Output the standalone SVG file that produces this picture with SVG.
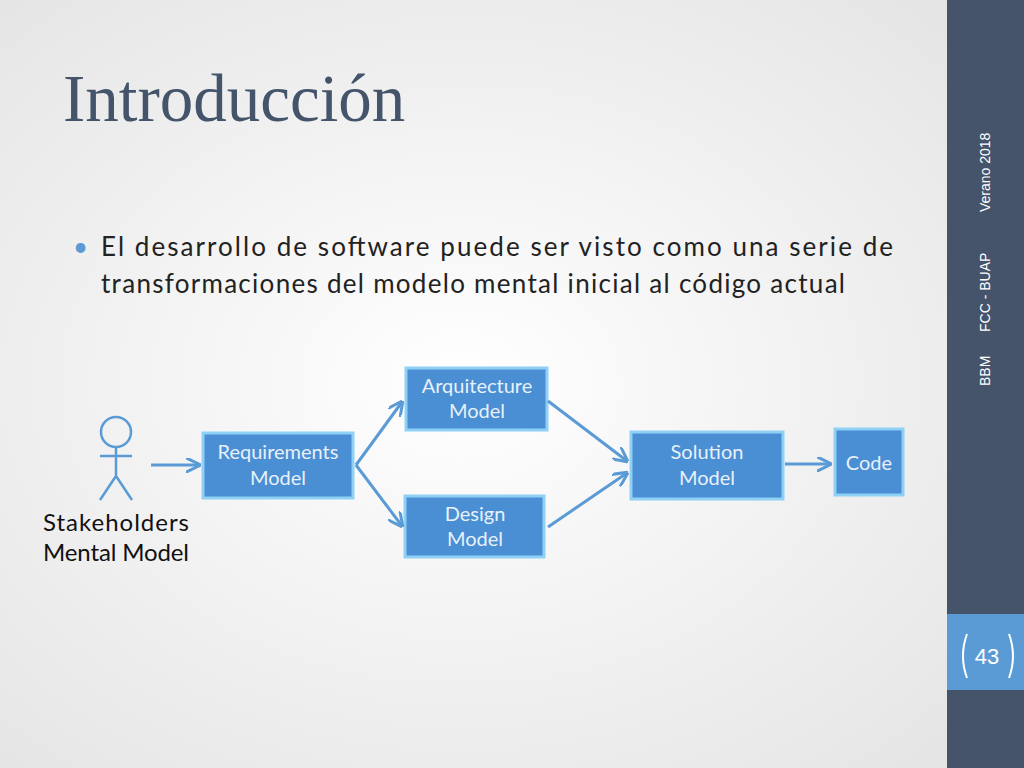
<svg xmlns="http://www.w3.org/2000/svg" width="1024" height="768" viewBox="0 0 1024 768">
<style>
.box{fill:#4a8ed3;stroke:#8fd0f5;stroke-width:3}
.bt{font-family:Lato,"Open Sans",sans-serif;font-size:20px;fill:#e8f1fa;text-anchor:middle}
.c{stroke:#5b9bd5;stroke-width:3;fill:none}
.s{font-family:"Liberation Sans",sans-serif;font-size:14px;fill:#fff}
</style>
<defs>
<radialGradient id="bg" cx="0.45" cy="0.5" r="0.7"><stop offset="0" stop-color="#ffffff"/><stop offset="1" stop-color="#e4e4e4"/></radialGradient>
<marker id="a" viewBox="0 0 10 10" refX="9" refY="5" markerWidth="5" markerHeight="5" orient="auto"><path d="M0,0 L10,5 L0,10" fill="none" stroke="#5b9bd5" stroke-width="2"/></marker>
</defs>
<rect width="1024" height="768" fill="url(#bg)"/>
<rect x="947" y="0" width="77" height="768" fill="#45546b"/>
<rect x="947" y="614" width="77" height="76" fill="#5b9bd5"/>
<path d="M967,634 q-8,22 0,44 M1009,634 q8,22 0,44" stroke="#fff" stroke-width="2" fill="none"/>
<text x="987" y="664" font-family="Liberation Sans,sans-serif" font-size="22" fill="#fff" text-anchor="middle">43</text>
<text class="s" transform="translate(990,386) rotate(-90)">BBM</text>
<text class="s" transform="translate(990,332) rotate(-90)">FCC - BUAP</text>
<text class="s" transform="translate(990,212) rotate(-90)">Verano 2018</text>
<text x="63" y="121" font-family="Liberation Serif,serif" font-size="67" fill="#44546a">Introducción</text>
<text font-family="Lato,'Open Sans',sans-serif" font-size="26" fill="#222"><tspan x="73" y="256" fill="#5b9bd5">•</tspan><tspan x="101" y="256" textLength="792" lengthAdjust="spacing">El desarrollo de software puede ser visto como una serie de</tspan><tspan x="101" y="293" textLength="744" lengthAdjust="spacing">transformaciones del modelo mental inicial al código actual</tspan></text>
<g id="stakeholder" stroke="#5b9bd5" stroke-width="2.5" fill="none">
<circle cx="116" cy="432" r="15"/><path d="M116,447 V476 M100,456 H132 M116,476 L100,500 M116,476 L132,500"/>
</g>
<text font-family="Lato,'Open Sans',sans-serif" font-size="24" fill="#111" text-anchor="middle"><tspan x="116" y="531" textLength="146">Stakeholders</tspan><tspan x="116" y="561" textLength="146">Mental Model</tspan></text>
<g id="req"><rect class="box" x="203" y="433" width="150" height="65"/><text class="bt" x="278" y="459">Requirements</text><text class="bt" x="278" y="485">Model</text></g>
<g id="arq"><rect class="box" x="406" y="368" width="141" height="62"/><text class="bt" x="477" y="393">Arquitecture</text><text class="bt" x="477" y="418">Model</text></g>
<g id="design"><rect class="box" x="405" y="496" width="139" height="61"/><text class="bt" x="475" y="521">Design</text><text class="bt" x="475" y="546">Model</text></g>
<g id="solution"><rect class="box" x="631" y="432" width="152" height="67"/><text class="bt" x="707" y="459">Solution</text><text class="bt" x="707" y="485">Model</text></g>
<g id="code"><rect class="box" x="835" y="429" width="68" height="66"/><text class="bt" x="869" y="470">Code</text></g>
<g id="connectors">
<path class="c" d="M151,465 H199" marker-end="url(#a)"/>
<path class="c" d="M356,465 L402,402" marker-end="url(#a)"/>
<path class="c" d="M356,465 L402,526" marker-end="url(#a)"/>
<path class="c" d="M548,401 L627,461" marker-end="url(#a)"/>
<path class="c" d="M548,527 L627,473" marker-end="url(#a)"/>
<path class="c" d="M785,464 H830" stroke-width="1.5" marker-end="url(#a)"/>
</g>
</svg>
